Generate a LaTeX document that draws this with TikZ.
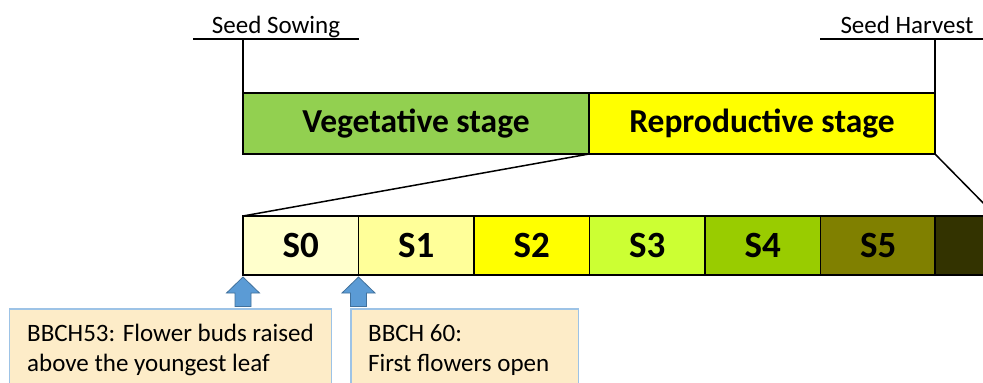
\documentclass[tikz,border=0pt]{standalone}
\usepackage{fontspec}
\setmainfont{Carlito}
\definecolor{veggreen}{HTML}{92D050}
\definecolor{repyellow}{HTML}{FFFF00}
\definecolor{cz}{HTML}{FFFFCC}
\definecolor{ca}{HTML}{FFFF99}
\definecolor{cb}{HTML}{FFFF00}
\definecolor{cc}{HTML}{CCFF33}
\definecolor{cd}{HTML}{99CC00}
\definecolor{ce}{HTML}{808000}
\definecolor{cf}{HTML}{333300}
\definecolor{boxfill}{RGB}{253,236,200}
\definecolor{boxline}{RGB}{157,195,230}
\definecolor{arrfill}{HTML}{5B9BD5}
\definecolor{arrline}{HTML}{41719C}
\begin{document}
\begin{tikzpicture}[x=1pt,y=-1pt,
  stagebox/.style={draw=black,line width=1.5pt,minimum width=346pt,minimum height=61pt,
    anchor=north west,inner sep=0pt,outer sep=0pt,font=\fontsize{33.5}{40}\selectfont\bfseries},
  cellbox/.style={draw=black,line width=1.5pt,minimum width=115.5pt,minimum height=59pt,
    anchor=north west,inner sep=0pt,outer sep=0pt,font=\fontsize{37}{44}\selectfont\bfseries},
  lbl/.style={anchor=base,inner sep=0pt,font=\fontsize{25}{30}\selectfont},
  infobox/.style={draw=boxline,fill=boxfill,line width=1.2pt,anchor=north west,inner sep=0pt,outer sep=0pt,minimum height=120pt},
  infotext/.style={anchor=base west,inner sep=0pt,align=left,font=\fontsize{25}{30.5}\selectfont},
  blockarrow/.style={draw=arrline,fill=arrfill,line width=0.8pt,line join=miter},
  thin/.style={draw=black,line width=1.5pt}]
\useasboundingbox (0,0) rectangle (983,383);
\clip (0,0) rectangle (983,383);
\fill[white] (0,0) rectangle (983,383);

% top stages
\node[stagebox,fill=veggreen] (veg) at (243,93) {Vegetative stage};
\node[stagebox,fill=repyellow] (rep) at (589,93) {Reproductive stage};

% milestones
\node[lbl] (sow) at (276,33) {Seed Sowing};
\node[lbl] (harv) at (907,33) {Seed Harvest};
\coordinate (sowL) at (193,39);
\coordinate (sowR) at (359,39);
\coordinate (sowM) at (243,39);
\coordinate (harL) at (820,39);
\coordinate (harR) at (990,39);
\coordinate (harM) at (935,39);
\draw[thin] (sowL) -- (sowR);
\draw[thin] (sowM) -- (veg.north west);
\draw[thin] (harL) -- (harR);
\draw[thin] (harM) -- (rep.north east);

% sub-stages
\node[cellbox,fill=cz] (s0) at (243,216) {S0};
\node[cellbox,fill=ca] (s1) at (358.5,216) {S1};
\node[cellbox,fill=cb] (s2) at (474,216) {S2};
\node[cellbox,fill=cc] (s3) at (589.5,216) {S3};
\node[cellbox,fill=cd] (s4) at (705,216) {S4};
\node[cellbox,fill=ce] (s5) at (820.5,216) {S5};
\node[cellbox,fill=cf,minimum width=61pt] (s6) at (935,216) {};

% zoom lines
\draw[thin] (rep.south west) -- (s0.north west);
\draw[thin] (rep.south east) -- (s6.north east);

% info boxes
\node[infobox,minimum width=321.5pt] (b1) at (9.6,309) {};
\node[infobox,minimum width=227.5pt] (b2) at (351,309) {};
\node[infotext] (t1) at (27,371.5) {BBCH53: Flower buds raised\\above the youngest leaf};
\node[infotext] (t2) at (368,371.5) {BBCH 60:\\First flowers open};

% block arrows
\coordinate (a1) at (243,277);
\coordinate (a2) at (358.5,277);
\draw[blockarrow] (a1) -- ++(16.5,16) -- ++(-8.5,0) -- ++(0,13.5) -- ++(-16,0) -- ++(0,-13.5) -- ++(-8.5,0) -- cycle;
\draw[blockarrow] (a2) -- ++(16.5,16) -- ++(-8.5,0) -- ++(0,13.5) -- ++(-16,0) -- ++(0,-13.5) -- ++(-8.5,0) -- cycle;
\end{tikzpicture}
\end{document}
